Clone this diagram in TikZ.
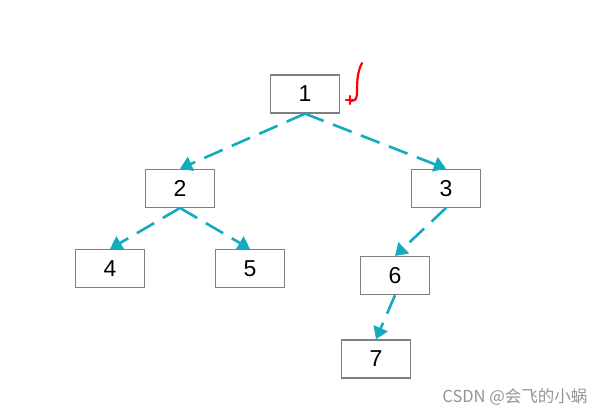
\documentclass[tikz,border=0pt]{standalone}
\usepackage{fontspec}
\setmainfont{Liberation Sans}
\newfontfamily\cjk{Noto Sans CJK SC}
\usepackage{xcolor}
\usepackage{tikz}
\usetikzlibrary{arrows.meta, positioning}

\definecolor{edgeteal}{RGB}{18,172,190}
\definecolor{boxgray}{RGB}{128,128,128}

\begin{document}
\begin{tikzpicture}[
  x=1pt, y=-1pt,
  box/.style={draw=boxgray, line width=1.3pt, minimum width=69pt, minimum height=38pt,
    inner sep=0pt, font=\fontsize{23}{26}\selectfont},
  link/.style={draw=edgeteal, line width=2.6pt, dash pattern=on 20pt off 10pt,
    -{Triangle[length=12pt,width=15pt]}},
  penstroke/.style={draw=red, line width=2.2pt, line cap=round, line join=round}
]
\useasboundingbox (0,0) rectangle (603,414);

% root
\node[box] (n1) at (305,94) {1};

% second level
\node[box, below=55pt of n1, xshift=-125pt] (n2) {2};
\node[box, below=55pt of n1, xshift=141pt] (n3) {3};

% third level
\node[box, below=41pt of n2, xshift=-70pt] (n4) {4};
\node[box, below=41pt of n2, xshift=70pt] (n5) {5};
\node[box, below=48pt of n3, xshift=-51pt] (n6) {6};

% last level
\node[box, below=44pt of n6, xshift=-19pt] (n7) {7};

% edges
\draw[link] (n1.south) -- (n2.north);
\draw[link] (n1.south) -- (n3.north);
\draw[link] (n2.south) -- (n4.north);
\draw[link] (n2.south) -- (n5.north);
\draw[link] (n3.south) -- (n6.north);
\draw[link] (n6.south) -- (n7.north);

% red pen stroke
\draw[penstroke] (362,63) .. controls (357,72) and (357,84) .. (357,94)
  .. controls (356,100) .. (351,101);
\draw[penstroke] (346,100) -- (354,100) (350,96) -- (350,104);

% watermark
\node[anchor=east, text=black!42, font=\cjk\fontsize{16.5}{18}\selectfont] (wm)
  at (591,397) {CSDN @会飞的小蜗};
\end{tikzpicture}
\end{document}
